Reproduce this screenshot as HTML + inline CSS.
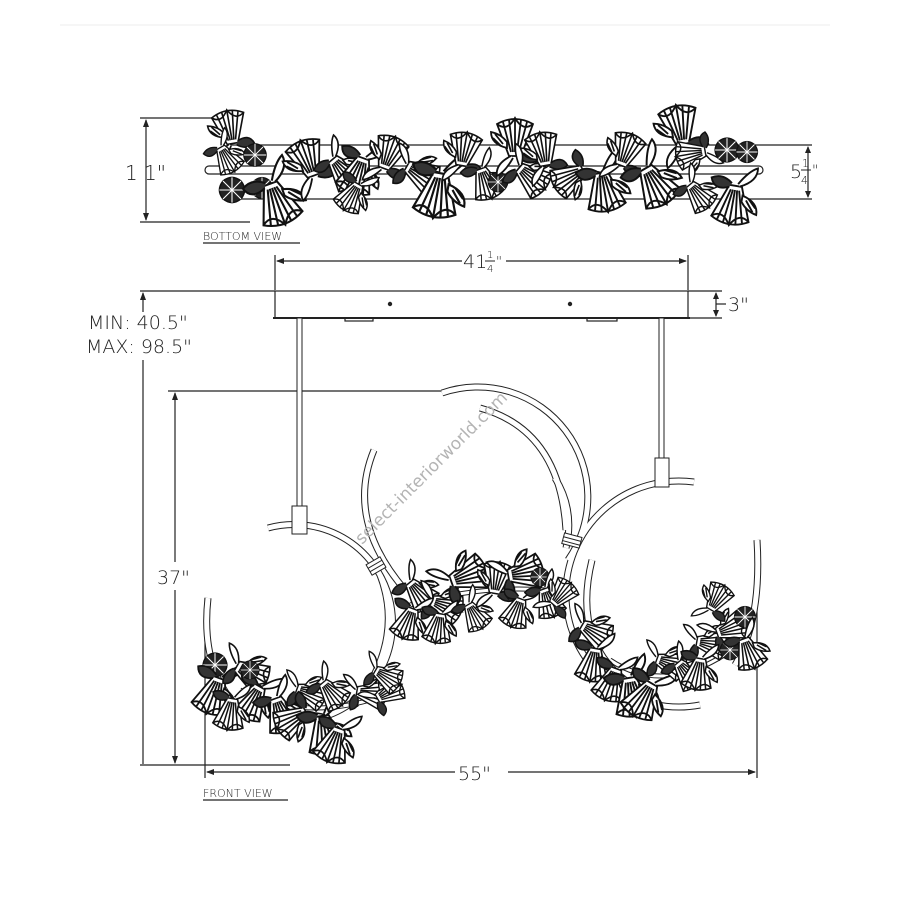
<!DOCTYPE html>
<html><head><meta charset="utf-8"><style>
html,body{margin:0;padding:0;background:#fff;}
svg{display:block;}
text{font-family:"DejaVu Sans","Liberation Sans",sans-serif;fill:#222;font-weight:200;}
</style></head><body>
<svg width="900" height="900" viewBox="0 0 900 900" xmlns="http://www.w3.org/2000/svg">
<defs>
<g id="f" stroke="#111" stroke-width="0.9" fill="#fff">
  <path d="M-3,-2 L3,-2 L9,14 Q0,19 -9,14 Z"/>
  <path d="M-2,0 L-6,15 M0,0 L0,17 M2,0 L6,15 M-1,0 L-3,16 M1,0 L3,16" fill="none"/>
  <path d="M2,-2 Q10,-6 9,-12 Q5,-10 1,-3" />
  <path d="M-3,-1 Q-10,2 -12,-4 Q-7,-7 -2,-3" fill="#333"/>
  <path d="M-9,14 Q-4,10 0,17 Q4,10 9,14" fill="none"/>
  <path d="M4,2 Q12,4 12,10 Q7,9 4,5Z" fill="#fff"/>
  <path d="M6,4 L10,9 M7,3 L11,7" fill="none"/>
</g>
<g id="d" stroke="#111" stroke-width="0.8" fill="#222">
  <path d="M-5,-5 Q0,-9 5,-5 Q9,0 5,5 Q0,9 -5,5 Q-9,0 -5,-5Z"/>
  <path d="M-7,0 L7,0 M0,-7 L0,7 M-5,-5 L5,5 M5,-5 L-5,5" stroke="#fff" stroke-width="0.6"/>
</g>
</defs>
<line x1="60" y1="25" x2="830" y2="25" stroke="#eee" stroke-width="1"/>

<!-- BOTTOM VIEW -->
<g stroke="#222" stroke-width="1.2" fill="none">
  <line x1="140" y1="118" x2="225" y2="118"/>
  <line x1="140" y1="222" x2="250" y2="222"/>
  <line x1="146" y1="120" x2="146" y2="220"/>
  <line x1="230" y1="145" x2="812" y2="145"/>
  <line x1="230" y1="199" x2="812" y2="199"/>
  <rect x="205" y="166" width="558" height="8" rx="4" fill="#fff"/>
  <line x1="808" y1="147" x2="808" y2="197"/>
  <line x1="203" y1="243" x2="300" y2="243"/>
</g>
<path d="M146,119 l-3,8 h6z M146,221 l-3,-8 h6z M808,146 l-3,7 h6z M808,198 l-3,-7 h6z" fill="#222"/>
<g>
<use href="#f" transform="translate(232,140) rotate(170) scale(1.8)"/>
<use href="#f" transform="translate(222,150) rotate(-30) scale(1.5)"/>
<use href="#d" transform="translate(255,155) scale(1.6)"/>
<use href="#d" transform="translate(232,190) scale(1.8)"/>
<use href="#d" transform="translate(262,188) scale(1.5)"/>
<use href="#f" transform="translate(272,188) rotate(-20) scale(2.3)"/>
<use href="#f" transform="translate(312,172) rotate(160) scale(2)"/>
<use href="#f" transform="translate(335,162) rotate(-40) scale(1.8)"/>
<use href="#f" transform="translate(362,162) rotate(20) scale(2)"/>
<use href="#f" transform="translate(385,165) rotate(200) scale(1.8)"/>
<use href="#f" transform="translate(410,168) rotate(-60) scale(1.8)"/>
<use href="#f" transform="translate(440,178) rotate(10) scale(2.4)"/>
<use href="#f" transform="translate(462,162) rotate(190) scale(1.8)"/>
<use href="#f" transform="translate(482,172) rotate(-20) scale(1.7)"/>
<use href="#d" transform="translate(498,182) scale(1.4)"/>
<use href="#f" transform="translate(515,152) rotate(180) scale(2)"/>
<use href="#f" transform="translate(522,170) rotate(-50) scale(1.8)"/>
<use href="#f" transform="translate(545,162) rotate(170) scale(1.8)"/>
<use href="#f" transform="translate(580,172) rotate(60) scale(1.8)"/>
<use href="#f" transform="translate(602,177) rotate(-10) scale(2.1)"/>
<use href="#f" transform="translate(622,162) rotate(200) scale(1.8)"/>
<use href="#f" transform="translate(648,172) rotate(-30) scale(2.2)"/>
<use href="#f" transform="translate(682,140) rotate(170) scale(2.1)"/>
<use href="#f" transform="translate(702,152) rotate(80) scale(1.6)"/>
<use href="#d" transform="translate(727,150) scale(1.7)"/>
<use href="#d" transform="translate(747,152) scale(1.5)"/>
<use href="#f" transform="translate(735,190) rotate(10) scale(2.1)"/>
<use href="#f" transform="translate(692,187) rotate(-40) scale(1.6)"/>
<use href="#f" transform="translate(357,187) rotate(30) scale(1.6)"/>
</g>
<text x="125" y="180" font-size="20">1 1"</text>
<text x="790" y="178" font-size="19">5</text>
<text x="802" y="167" font-size="11">1</text>
<line x1="801" y1="170" x2="811" y2="170" stroke="#222" stroke-width="1"/>
<text x="801" y="184" font-size="11">4</text>
<text x="812" y="175" font-size="14">"</text>
<text x="203" y="240" font-size="11">BOTTOM VIEW</text>

<!-- 41 1/4 dimension -->
<g stroke="#222" stroke-width="1.2" fill="none">
  <line x1="275" y1="255" x2="275" y2="290"/>
  <line x1="688" y1="255" x2="688" y2="290"/>
  <line x1="277" y1="261" x2="462" y2="261"/>
  <line x1="506" y1="261" x2="686" y2="261"/>
  <rect x="275" y="291" width="413" height="27" fill="#fff"/>
  <line x1="273" y1="318" x2="690" y2="318" stroke-width="2"/>
  <rect x="345" y="318" width="28" height="3"/>
  <rect x="587" y="318" width="30" height="3"/>
  <line x1="688" y1="291" x2="722" y2="291"/>
  <line x1="688" y1="318" x2="722" y2="318"/>
  <line x1="716" y1="293" x2="716" y2="316"/>
  <line x1="716" y1="304" x2="726" y2="304"/>
  <line x1="140" y1="291" x2="275" y2="291"/>
  <line x1="143" y1="293" x2="143" y2="312"/>
  <line x1="143" y1="360" x2="143" y2="764"/>
  <line x1="140" y1="765" x2="290" y2="765"/>
  <line x1="168" y1="391" x2="450" y2="391"/>
  <line x1="175" y1="393" x2="175" y2="562"/>
  <line x1="175" y1="590" x2="175" y2="763"/>
  <line x1="205" y1="598" x2="205" y2="778"/>
  <line x1="757" y1="548" x2="757" y2="778"/>
  <line x1="207" y1="772" x2="455" y2="772"/>
  <line x1="508" y1="772" x2="755" y2="772"/>
  <line x1="203" y1="800" x2="288" y2="800"/>
</g>
<path d="M276,261 l8,-3 v6z M687,261 l-8,-3 v6z M716,292 l-3,7 h6z M716,317 l-3,-7 h6z M143,292 l-3,8 h6z M175,392 l-3,8 h6z M175,764 l-3,-8 h6z M206,772 l8,-3 v6z M756,772 l-8,-3 v6z" fill="#222"/>
<circle cx="390" cy="304" r="2.2" fill="#222"/>
<circle cx="570" cy="304" r="2.2" fill="#222"/>
<text x="463" y="268" font-size="19">41</text>
<text x="487" y="258" font-size="10">1</text>
<line x1="485" y1="261" x2="495" y2="261" stroke="#222"/>
<text x="487" y="272" font-size="10">4</text>
<text x="496" y="266" font-size="13">"</text>
<text x="728" y="311" font-size="19">3"</text>
<text x="88" y="329" font-size="19">MIN: 40.5"</text>
<text x="86" y="353" font-size="19">MAX: 98.5"</text>
<text x="157" y="584" font-size="19">37"</text>
<text x="458" y="780" font-size="19">55"</text>
<text x="203" y="797" font-size="11">FRONT VIEW</text>

<!-- rods -->
<g stroke="#222" stroke-width="1" fill="#fff">
  <rect x="297" y="318" width="5" height="188"/>
  <rect x="659" y="318" width="5" height="140"/>
</g>

<g fill="none" stroke-linecap="butt">
  <g stroke="#222" stroke-width="7">
    <path d="M268,528 A97,97 0 1 1 320,718"/>
    <path d="M380,575 Q405,640 355,705"/>
    <path d="M208,598 Q200,670 240,710"/>
    <path d="M442,393 A110,110 0 0 1 568,560"/>
    <path d="M480,408 Q560,430 566,530"/>
    <path d="M555,478 Q575,510 566,548"/>
    <path d="M374,450 Q345,520 405,590"/>
    <path d="M694,482 A113,113 0 1 0 700,705"/>
    <path d="M592,560 Q570,650 640,690"/>
    <path d="M757,540 Q762,620 735,665"/>
  </g>
  <g stroke="#fff" stroke-width="5">
    <path d="M268,528 A97,97 0 1 1 320,718"/>
    <path d="M380,575 Q405,640 355,705"/>
    <path d="M208,598 Q200,670 240,710"/>
    <path d="M442,393 A110,110 0 0 1 568,560"/>
    <path d="M480,408 Q560,430 566,530"/>
    <path d="M555,478 Q575,510 566,548"/>
    <path d="M374,450 Q345,520 405,590"/>
    <path d="M694,482 A113,113 0 1 0 700,705"/>
    <path d="M592,560 Q570,650 640,690"/>
    <path d="M757,540 Q762,620 735,665"/>
  </g>
</g>
<g stroke="#222" stroke-width="1" fill="#fff">
  <rect x="292" y="506" width="15" height="28"/>
  <rect x="655" y="458" width="14" height="29"/>
  <g transform="translate(376,566) rotate(-30)"><rect x="-8" y="-6" width="16" height="12"/><path d="M-8,-2 H8 M-8,2 H8" /></g>
  <g transform="translate(572,540) rotate(15)"><rect x="-9" y="-5" width="18" height="11"/><path d="M-9,-1 H9 M-9,3 H9" /></g>
  <path d="M410,605 Q480,585 545,590" fill="none" stroke-width="5"/>
  <path d="M410,605 Q480,585 545,590" fill="none" stroke="#fff" stroke-width="3"/>
  <path d="M240,690 Q300,720 370,700" fill="none" stroke-width="5"/>
  <path d="M240,690 Q300,720 370,700" fill="none" stroke="#fff" stroke-width="3"/>
  <path d="M610,660 Q670,700 745,640" fill="none" stroke-width="5"/>
  <path d="M610,660 Q670,700 745,640" fill="none" stroke="#fff" stroke-width="3"/>
</g>

<!-- flowers front -->
<g>
<use href="#d" transform="translate(215,665) scale(1.7)"/>
<use href="#f" transform="translate(218,682) rotate(20) scale(2)"/>
<use href="#f" transform="translate(240,668) rotate(-60) scale(1.8)"/>
<use href="#f" transform="translate(258,690) rotate(30) scale(1.9)"/>
<use href="#f" transform="translate(277,702) rotate(-20) scale(1.9)"/>
<use href="#f" transform="translate(300,690) rotate(-70) scale(1.6)"/>
<use href="#f" transform="translate(303,714) rotate(60) scale(1.8)"/>
<use href="#f" transform="translate(323,720) rotate(-10) scale(2.1)"/>
<use href="#f" transform="translate(338,732) rotate(20) scale(1.9)"/>
<use href="#f" transform="translate(325,685) rotate(-40) scale(1.6)"/>
<use href="#f" transform="translate(360,692) rotate(-80) scale(1.6)"/>
<use href="#f" transform="translate(380,697) rotate(-120) scale(1.5)"/>
<use href="#f" transform="translate(378,672) rotate(-60) scale(1.5)"/>
<use href="#f" transform="translate(232,702) rotate(10) scale(1.7)"/>
<use href="#d" transform="translate(250,670) scale(1.3)"/>
<use href="#f" transform="translate(412,585) rotate(-40) scale(1.7)"/>
<use href="#f" transform="translate(435,602) rotate(-70) scale(1.7)"/>
<use href="#f" transform="translate(412,612) rotate(20) scale(1.7)"/>
<use href="#f" transform="translate(455,580) rotate(-110) scale(2)"/>
<use href="#f" transform="translate(440,617) rotate(10) scale(1.6)"/>
<use href="#f" transform="translate(470,607) rotate(-30) scale(1.5)"/>
<use href="#f" transform="translate(495,590) rotate(-170) scale(1.7)"/>
<use href="#f" transform="translate(512,575) rotate(-100) scale(1.9)"/>
<use href="#f" transform="translate(520,602) rotate(20) scale(1.6)"/>
<use href="#d" transform="translate(540,577) scale(1.3)"/>
<use href="#f" transform="translate(545,592) rotate(-20) scale(1.6)"/>
<use href="#f" transform="translate(555,602) rotate(-140) scale(1.5)"/>
<use href="#f" transform="translate(585,627) rotate(-60) scale(1.7)"/>
<use href="#f" transform="translate(595,652) rotate(10) scale(1.8)"/>
<use href="#f" transform="translate(615,672) rotate(20) scale(1.8)"/>
<use href="#f" transform="translate(630,682) rotate(-10) scale(2.1)"/>
<use href="#f" transform="translate(650,687) rotate(30) scale(2)"/>
<use href="#f" transform="translate(660,660) rotate(-70) scale(1.6)"/>
<use href="#f" transform="translate(680,665) rotate(-40) scale(1.6)"/>
<use href="#f" transform="translate(700,642) rotate(-80) scale(1.6)"/>
<use href="#f" transform="translate(720,632) rotate(-110) scale(1.6)"/>
<use href="#f" transform="translate(700,662) rotate(10) scale(1.7)"/>
<use href="#d" transform="translate(745,617) scale(1.5)"/>
<use href="#d" transform="translate(730,650) scale(1.4)"/>
<use href="#f" transform="translate(745,642) rotate(-20) scale(1.7)"/>
<use href="#f" transform="translate(712,607) rotate(-150) scale(1.5)"/>
</g>

<text x="0" y="0" font-size="17" style="fill:#b4b4b4;font-weight:400" transform="translate(362,545) rotate(-45)">select-interiorworld.com</text>
</svg>
</body></html>
